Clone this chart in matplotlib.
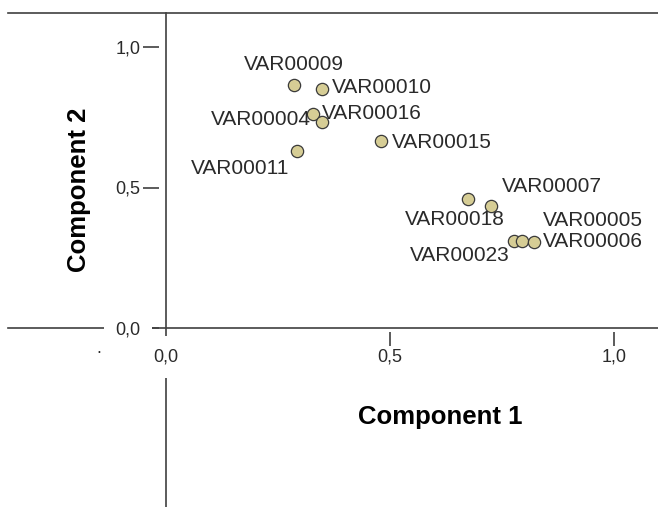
import matplotlib.pyplot as plt
from matplotlib.transforms import offset_copy

# component loadings
variables = ["VAR00009", "VAR00010", "VAR00004", "VAR00016", "VAR00015", "VAR00011",
             "VAR00018", "VAR00007", "VAR00023", "VAR00005", "VAR00006"]
component_1 = [0.286, 0.348, 0.329, 0.348, 0.481, 0.292, 0.673, 0.725, 0.777, 0.795, 0.821]
component_2 = [0.865, 0.851, 0.762, 0.734, 0.667, 0.631, 0.458, 0.435, 0.311, 0.311, 0.307]

x_ticks = [0.0, 0.5, 1.0]
x_tick_labels = ["0,0", "0,5", "1,0"]
y_ticks = [0.0, 0.5, 1.0]
y_tick_labels = ["0,0", "0,5", "1,0"]

# label placement: offset in pixels from the point, horizontal alignment
label_place = {
    "VAR00009": (0, 20, "center"),
    "VAR00010": (10, 1.5, "left"),
    "VAR00004": (-2, -6, "right"),
    "VAR00016": (0, 8, "left"),
    "VAR00015": (10, -2, "left"),
    "VAR00011": (-8, -18, "right"),
    "VAR00018": (-12.5, -20.5, "center"),
    "VAR00007": (11, 19, "left"),
    "VAR00023": (-4, -15, "right"),
    "VAR00005": (20.5, 20.5, "left"),
    "VAR00006": (9, 0, "left"),
}

line_color = "#404040"
text_color = "#2a2a2a"
font = "Liberation Sans"

fig = plt.figure(figsize=(6.58, 5.07), dpi=100)
ax = fig.add_axes([8 / 658, 0, 650 / 658, 494 / 507])
ax.set_xlim(-158 / 448, 492 / 448)
ax.set_ylim(-179 / 281, 315 / 281)

for side in ["left", "bottom"]:
    ax.spines[side].set_position(("data", 0))
    ax.spines[side].set_color(line_color)
    ax.spines[side].set_linewidth(1.2)
ax.spines["top"].set_color(line_color)
ax.spines["top"].set_linewidth(1.2)
ax.spines["right"].set_visible(False)

ax.set_xticks(x_ticks, x_tick_labels)
ax.set_yticks(y_ticks, y_tick_labels)
ax.tick_params(axis="x", length=0, pad=15, labelsize=13, labelcolor=text_color)
ax.tick_params(axis="y", length=0, pad=18.5, labelsize=13, labelcolor=text_color)
for lbl in ax.get_xticklabels() + ax.get_yticklabels():
    lbl.set_fontfamily(font)
ax.get_xticklabels()[0].set_bbox(dict(facecolor="white", edgecolor="none", pad=9))
ax.get_yticklabels()[0].set_bbox(dict(facecolor="white", edgecolor="none", pad=8))
ax.xaxis.set_zorder(3)
ax.yaxis.set_zorder(3)

# detached tick dashes, as in the SPSS output
y_dash = offset_copy(ax.transData, fig=fig, x=-15, y=0, units="dots")
ax.plot([0] * len(y_ticks), y_ticks, ls="none", marker="_", ms=11.5, mew=1.2,
        color=line_color, transform=y_dash, clip_on=False, zorder=2)
x_major = [t for t in x_ticks if t != 0]
x_dash = offset_copy(ax.transData, fig=fig, x=0, y=-10.5, units="dots")
ax.plot(x_major, [0] * len(x_major), ls="none", marker="|", ms=9.4, mew=1.2,
        color=line_color, transform=x_dash, clip_on=False, zorder=2)

ax.scatter(component_1, component_2, s=78, facecolor="#d6cd95", edgecolor="#3a3a3a",
           linewidth=0.9, zorder=4)
for name, cx, cy in zip(variables, component_1, component_2):
    dx, dy, ha = label_place[name]
    ax.annotate(name, (cx, cy), xytext=(dx, dy), textcoords="offset pixels",
                ha=ha, va="center", fontsize=15, family=font, color=text_color, zorder=5)

ax.set_xlabel("Component 1", fontsize=18.5, fontweight="bold", family=font, va="center")
ax.xaxis.set_label_coords((440 - 8) / 650, (507 - 417) / 494)
ax.set_ylabel("Component 2", fontsize=18.5, fontweight="bold", family=font, va="center")
ax.yaxis.set_label_coords((79 - 8) / 650, (507 - 190) / 494)

ax.text((99 - 8) / 650, (507 - 353) / 494, ".", transform=ax.transAxes, ha="center",
        va="baseline", fontsize=11, color=text_color)

fig.savefig("out.png", dpi=100)
